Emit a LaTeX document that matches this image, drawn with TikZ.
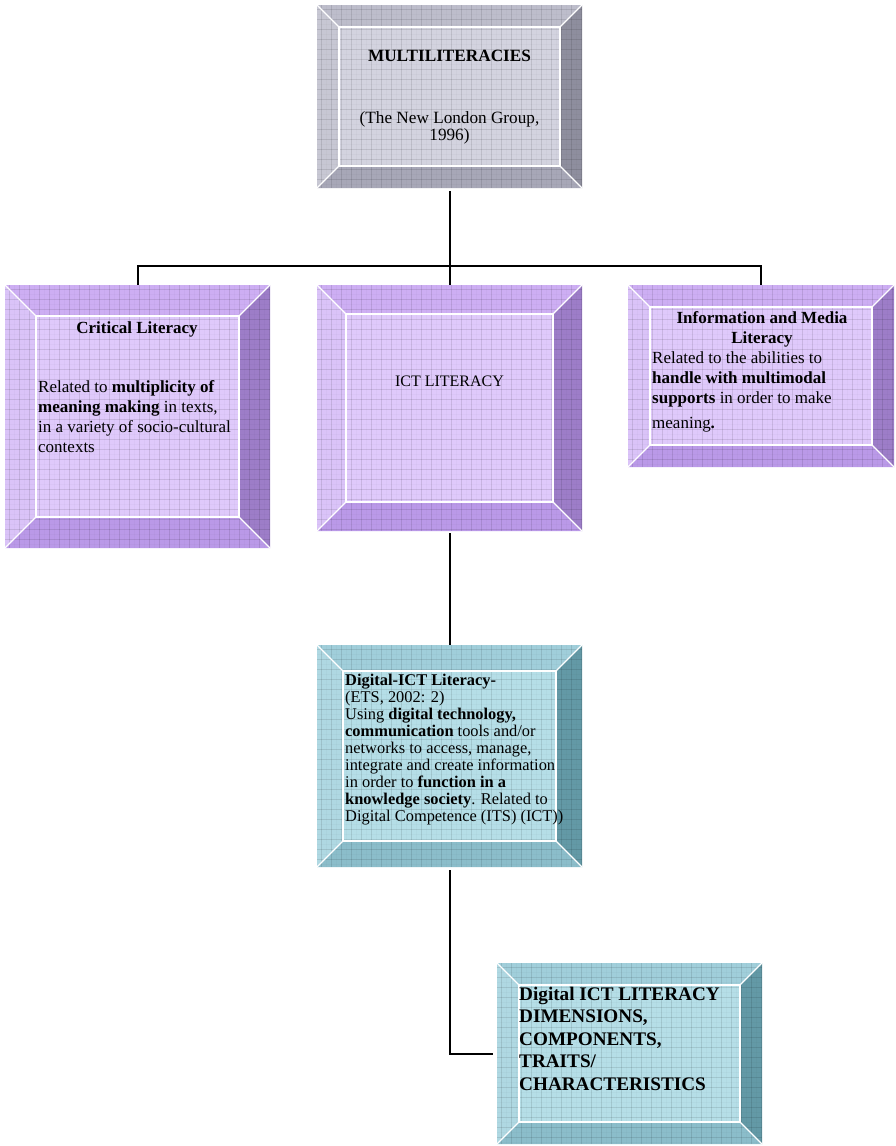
\documentclass[tikz,border=0pt]{standalone}
\usepackage{fontspec}
\setmainfont{Liberation Serif}
\usetikzlibrary{fit}
% gray palette
\definecolor{gIn}{HTML}{D3D3DF}
\definecolor{gT}{HTML}{BDBDCB}
\definecolor{gL}{HTML}{C7C7D3}
\definecolor{gB}{HTML}{A7A7B7}
\definecolor{gR}{HTML}{8E8E9E}
% purple palette
\definecolor{pIn}{HTML}{DFC9FB}
\definecolor{pT}{HTML}{CDAEF3}
\definecolor{pL}{HTML}{DAC3F8}
\definecolor{pB}{HTML}{BA99E8}
\definecolor{pR}{HTML}{9D7DC8}
% cyan palette
\definecolor{cIn}{HTML}{B5DEE7}
\definecolor{cT}{HTML}{A0CEDA}
\definecolor{cL}{HTML}{AFD8E2}
\definecolor{cB}{HTML}{8BBDCA}
\definecolor{cR}{HTML}{6399A6}
\tikzset{
  gridline/.style={black, opacity=0.1, line width=0.7pt},
  gridfine/.style={black, opacity=0.02, line width=0.5pt},
  bevline/.style={white, line width=1.3pt},
  conn/.style={black, line width=2pt},
  txt/.style={inner sep=0pt, font=\fontsize{17}{20}\selectfont},
}
\newcommand\bevbox[7]{%
  \fill[#7In] (#2,#3) rectangle (#4,#5);
  \fill[#7T] (#2,#3) -- (#4,#3) -- ({#4-#6},{#3+#6}) -- ({#2+#6},{#3+#6}) -- cycle;
  \fill[#7L] (#2,#3) -- ({#2+#6},{#3+#6}) -- ({#2+#6},{#5-#6}) -- (#2,#5) -- cycle;
  \fill[#7R] (#4,#3) -- (#4,#5) -- ({#4-#6},{#5-#6}) -- ({#4-#6},{#3+#6}) -- cycle;
  \fill[#7B] (#2,#5) -- (#4,#5) -- ({#4-#6},{#5-#6}) -- ({#2+#6},{#5-#6}) -- cycle;
  \begin{scope}
    \clip (#2,#3) rectangle (#4,#5);
    \foreach \i in {0,...,27} {
      \draw[gridline] ({#2+4+10*\i},#3) -- ({#2+4+10*\i},#5);
      \draw[gridline] (#2,{#3+4+10*\i}) -- (#4,{#3+4+10*\i});
      \draw[gridfine] ({#2+9+10*\i},#3) -- ({#2+9+10*\i},#5);
      \draw[gridfine] (#2,{#3+9+10*\i}) -- (#4,{#3+9+10*\i});
    }
  \end{scope}
  \draw[bevline] ({#2+#6},{#3+#6}) rectangle ({#4-#6},{#5-#6});
  \draw[bevline] (#2,#3) -- ({#2+#6},{#3+#6});
  \draw[bevline] (#4,#3) -- ({#4-#6},{#3+#6});
  \draw[bevline] (#2,#5) -- ({#2+#6},{#5-#6});
  \draw[bevline] (#4,#5) -- ({#4-#6},{#5-#6});
  \coordinate (#1-nw) at (#2,#3);
  \coordinate (#1-se) at (#4,#5);
  \node[fit=(#1-nw)(#1-se), inner sep=0pt] (#1) {};
}
\begin{document}
\begin{tikzpicture}[x=1pt,y=-1pt]
\useasboundingbox (0,0) rectangle (896,1146);
\fill[white] (0,0) rectangle (896,1146);

\bevbox{multi}{317}{5}{582}{188}{22}{g}
\bevbox{crit}{5}{285}{270}{548}{31}{p}
\bevbox{ict}{317}{285}{582}{531}{29}{p}
\bevbox{info}{628}{285}{894}{467}{22}{p}
\bevbox{dig}{317}{645}{582}{867}{26}{c}
\bevbox{dims}{497}{963}{762}{1144}{22}{c}

% connectors
\coordinate (hub) at (449.5,266);
\draw[conn] ([yshift=-3pt]multi.south) -- (hub);
\draw[conn] (crit.north) -- (crit.north |- hub) -- (info.north |- hub) -- (info.north);
\draw[conn] (hub) -- (ict.north);
\draw[conn] ([yshift=-2pt]ict.south) -- (dig.north);
\draw[conn] ([yshift=-3pt]dig.south) |- ([xshift=-4pt]dims.west);

% texts
\node[txt, anchor=base, font=\fontsize{17.2}{20}\selectfont\bfseries] (multit) at (449.5,61) {MULTILITERACIES};
\node[txt, anchor=north, align=center, font=\fontsize{17.2}{17}\selectfont] (multis) at (449.5,111) {(The New London Group,\\1996)};

\node[txt, anchor=base, font=\fontsize{17}{20}\selectfont\bfseries] (critt) at (137,333) {Critical Literacy};
\node[txt, anchor=north west, align=left] (critb) at (38,380) {Related to \textbf{multiplicity of}\\\textbf{meaning making} in texts,\\in a variety of socio-cultural\\contexts};

\node[txt, anchor=base, font=\fontsize{16}{19}\selectfont] (ictt) at (449.5,386) {ICT LITERACY};

\node[txt, anchor=north, align=center, font=\fontsize{17}{20}\selectfont\bfseries] (infot) at (762,311) {Information and Media\\Literacy};
\node[txt, anchor=north west, align=left] (infob) at (652,351) {Related to the abilities to\\\textbf{handle with multimodal}\\\textbf{supports} in order to make\\[5pt]meaning\textbf{.}};

\node[txt, anchor=north west, align=left, font=\fontsize{16.4}{17}\selectfont] (digt) at (345,674) {\textbf{Digital-ICT Literacy-}\\(ETS, 2002: 2)\\Using \textbf{digital technology,}\\\textbf{communication} tools and/or\\networks to access, manage,\\integrate and create information\\in order to \textbf{function in a}\\\textbf{knowledge society}. Related to\\Digital Competence (ITS) (ICT))};

\node[txt, anchor=north west, align=left, font=\fontsize{19.2}{22.5}\selectfont\bfseries] (dimst) at (519,986.5) {Digital ICT LITERACY\\DIMENSIONS,\\COMPONENTS,\\TRAITS/\\CHARACTERISTICS};
\end{tikzpicture}
\end{document}
